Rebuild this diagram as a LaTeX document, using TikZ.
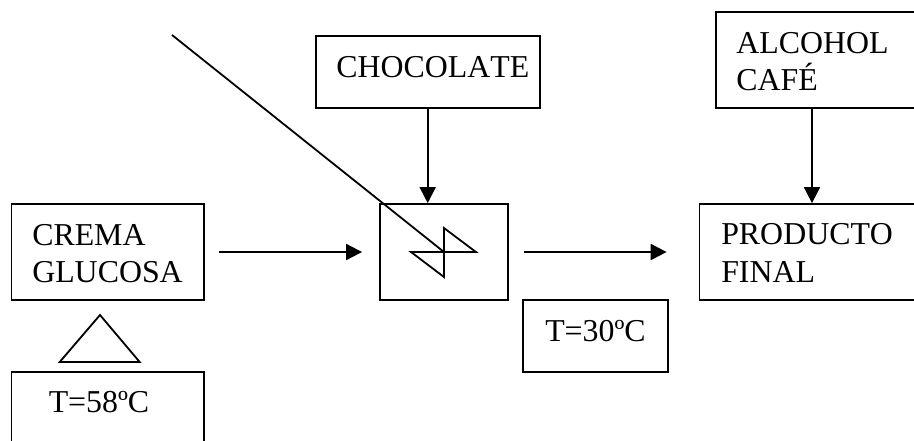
\documentclass[tikz,border=0pt]{standalone}
\usepackage{fontspec}
\setmainfont[Kerning=Off]{Liberation Serif}
\usetikzlibrary{arrows.meta}
\tikzset{
 box/.style={draw=black,line width=1.35pt,fill=white,inner sep=0pt},
 lbl/.style={font=\fontsize{23.9}{27.6}\selectfont,anchor=base west,align=left,inner sep=0pt,text=black},
 arr/.style={draw=black,line width=1.35pt,-{Triangle[length=12pt,width=12pt]}},
 plainline/.style={draw=black,line width=1.35pt,line join=miter}
}
\begin{document}
\begin{tikzpicture}[x=0.75pt,y=-0.75pt]
\useasboundingbox (0,0) rectangle (914,440);
\clip (0,0) rectangle (914,440);
\fill[white] (0,0) rectangle (914,440);
\node[box,minimum width=144.4pt,minimum height=72pt] (cre) at (107.75,252) {};
\node[box,minimum width=96pt,minimum height=72pt] (mix) at (444,252) {};
\node[box,minimum width=165.4pt,minimum height=72pt] (prod) at (809.8,252) {};
\node[box,minimum width=168pt,minimum height=54pt] (choc) at (427.7,72) {};
\node[box,minimum width=153.2pt,minimum height=72pt] (alc) at (818,60) {};
\node[box,minimum width=108.75pt,minimum height=54pt] (tb) at (595.8,336) {};
\node[box,minimum width=144.4pt,minimum height=57pt] (tc) at (107.75,410) {};
\node[lbl] (l1) at (32,245.5) {CREMA};
\node[lbl] (l2) at (32,282.5) {GLUCOSA};
\node[lbl] (l3) at (336,77) {CHOCOLATE};
\node[lbl] (l4) at (736,53) {ALCOHOL};
\node[lbl] (l5) at (736,90) {CAFÉ};
\node[lbl] (l6) at (721,244.5) {PRODUCTO};
\node[lbl] (l7) at (721,282) {FINAL};
\node[lbl] (l8) at (545,341) {T=30ºC};
\node[lbl] (l9) at (48.5,412.5) {T=58ºC};
\draw[arr,shorten <=10.5pt,shorten >=12.75pt] (cre) -- (mix);
\draw[arr,shorten <=11pt,shorten >=24pt] (mix.east) -- (prod.west);
\draw[arr] (choc.south) -- (mix.north -| choc.south);
\draw[arr] ([xshift=-4.5pt]alc.south) -- ([xshift=-4.5pt]prod.north -| alc.south);
\coordinate (s0) at (172,35);
\coordinate (s1) at (444,252);
\coordinate (s2) at (444,228);
\coordinate (s3) at (476,252);
\coordinate (s4) at (411,252);
\coordinate (s5) at (444,277);
\draw[plainline] (s0) -- (s1) -- (s2) -- (s3) -- (s4) -- (s5) -- (s1);
\coordinate (t1) at (100,315);
\coordinate (t2) at (139.7,362);
\coordinate (t3) at (59.7,362);
\draw[plainline] (t1) -- (t2) -- (t3) -- cycle;
\end{tikzpicture}
\end{document}
